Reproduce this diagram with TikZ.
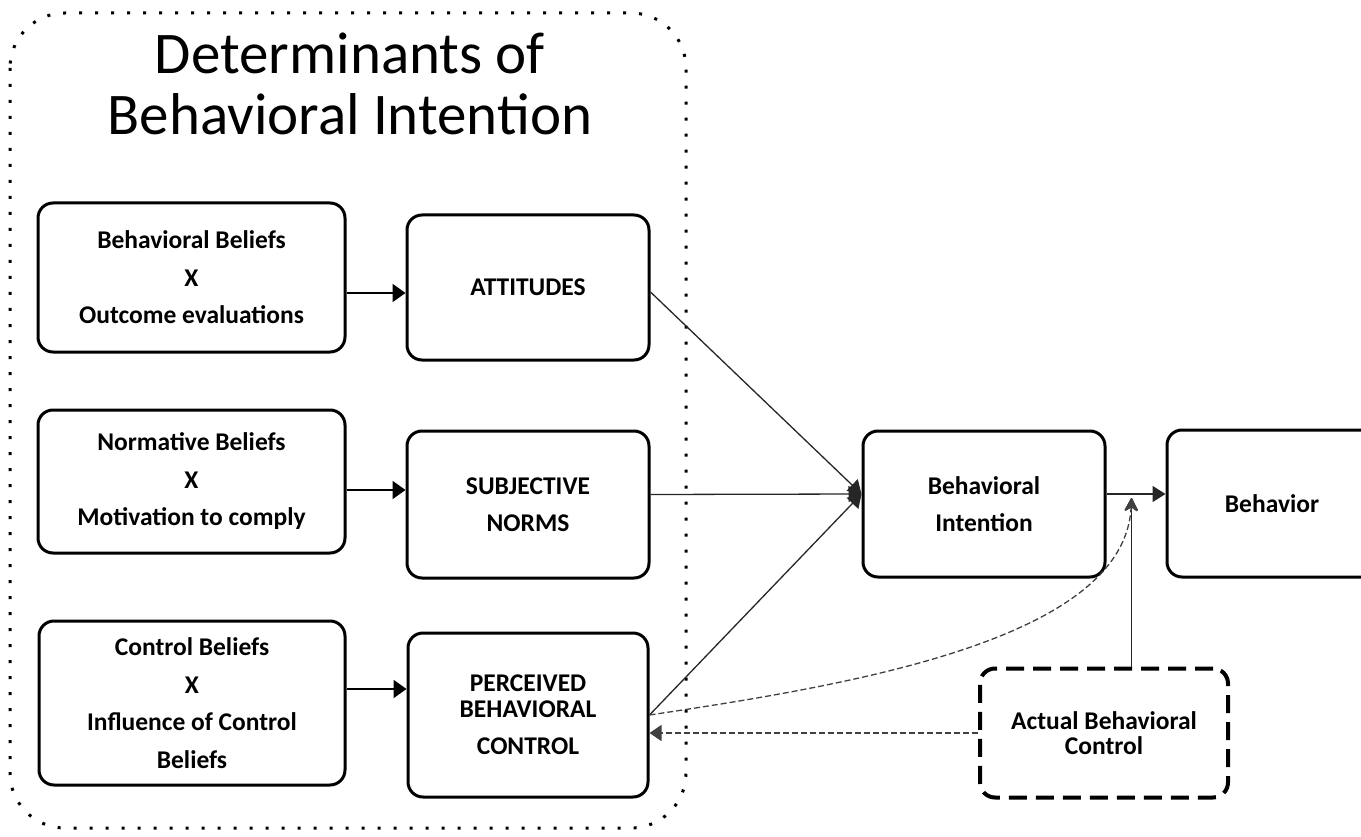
\documentclass[tikz,border=0pt]{standalone}
\usepackage{fontspec}
\setmainfont{Carlito}
\usetikzlibrary{positioning,arrows.meta}

\begin{document}
\begin{tikzpicture}[
  x=1pt, y=-1pt,
  bx/.style={draw=black, line width=3pt, rounded corners=15pt, align=center,
             inner sep=0pt, font=\bfseries\fontsize{25.5}{37.5}\selectfont},
  bxd/.style={bx, line width=4pt, dash pattern=on 18pt off 9pt,
              font=\bfseries\fontsize{25.5}{25}\selectfont},
  grp/.style={draw=black, line width=3pt, dash pattern=on 3pt off 13pt, rounded corners=55pt},
  ln/.style={draw=black, line width=2pt, -{Triangle[length=13pt,width=18pt]}},
  cv/.style={draw=black!85, line width=1.3pt, -{Triangle[length=13pt,width=16pt]}},
  up/.style={draw=black!85, line width=1.5pt, -{Stealth[length=15pt,width=15pt,round]}},
  dl/.style={draw=black!75, line width=1.3pt, dash pattern=on 6pt off 3pt},
]
\useasboundingbox (0,0) rectangle (1361,837);

% ---------------- dotted group + title ----------------
\draw[grp] (10,13) rectangle (686,828);
\node[font=\fontsize{59}{61}\selectfont, align=center] (ttl) at (350,84)
  {Determinants of\\Behavioral Intention};

% ---------------- belief boxes (left column) ----------------
\node[bx, minimum width=307pt, minimum height=149pt] (bb) at (191.5,277.5)
  {Behavioral Beliefs\\X\\Outcome evaluations};
\node[bx, minimum width=307pt, minimum height=143pt] (nb) at (191.5,481.5)
  {Normative Beliefs\\X\\Motivation to comply};
\node[bx, minimum width=306pt, minimum height=164pt] (cb) at (192,703)
  {Control Beliefs\\X\\Influence of Control\\Beliefs};

% ---------------- constructs (middle column) ----------------
\node[bx, minimum width=242pt, minimum height=145pt] (att) at (528,287.5) {ATTITUDES};
\node[bx, minimum width=242pt, minimum height=147pt] (sn)  at (528,504.5) {SUBJECTIVE\\NORMS};
\node[bx, minimum width=240pt, minimum height=164pt, font=\bfseries\fontsize{25.5}{26}\selectfont]
  (pbc) at (528,715) {PERCEIVED\\BEHAVIORAL\\[11pt]CONTROL};

% ---------------- intention, behaviour, actual control ----------------
\node[bx, minimum width=242pt, minimum height=146pt] (bi)  at (984,504) {Behavioral\\Intention};
\node[bx, minimum width=210pt, minimum height=147pt] (beh) at (1272,503.5) {Behavior};
\node[bxd, minimum width=248pt, minimum height=129pt] (abc) at (1104,733)
  {Actual Behavioral\\Control};

% ---------------- beliefs -> constructs ----------------
\coordinate (a1) at ([yshift=-15.5pt]bb.east);
\coordinate (a2) at ([yshift=-8.5pt]nb.east);
\coordinate (a3) at ([yshift=14pt]cb.east);
\draw[ln] (a1) -- (a1 -| att.west);
\draw[ln] (a2) -- (a2 -| sn.west);
\draw[ln] (a3) -- (a3 -| pbc.west);

% ---------------- constructs -> intention (one meeting point) ----------------
\coordinate (cvg) at ([yshift=10pt]bi.west);
\draw[cv] ([yshift=-4.5pt]att.east) -- (cvg);
\draw[cv] ([yshift=10pt]sn.east) -- (cvg);
\draw[cv] (pbc.east) -- (cvg);

% ---------------- intention -> behaviour, moderated by actual control ----------------
\coordinate (cvo) at ([yshift=10pt]bi.east);
\coordinate (jn) at ([xshift=25pt,yshift=-4pt]cvo);
\draw[cv, line width=1.5pt] (cvo) -- (cvo -| beh.west);
\draw[up] (abc.north -| jn) -- (jn);
\draw[dl, -{Stealth[length=15pt,width=15pt,round]}] (pbc.east) .. controls (850,685) and (1125,640) .. (jn);
\draw[dl, -{Triangle[length=12pt,width=16pt]}] (abc.west) -- (abc.west -| pbc.east);

\end{tikzpicture}
\end{document}
